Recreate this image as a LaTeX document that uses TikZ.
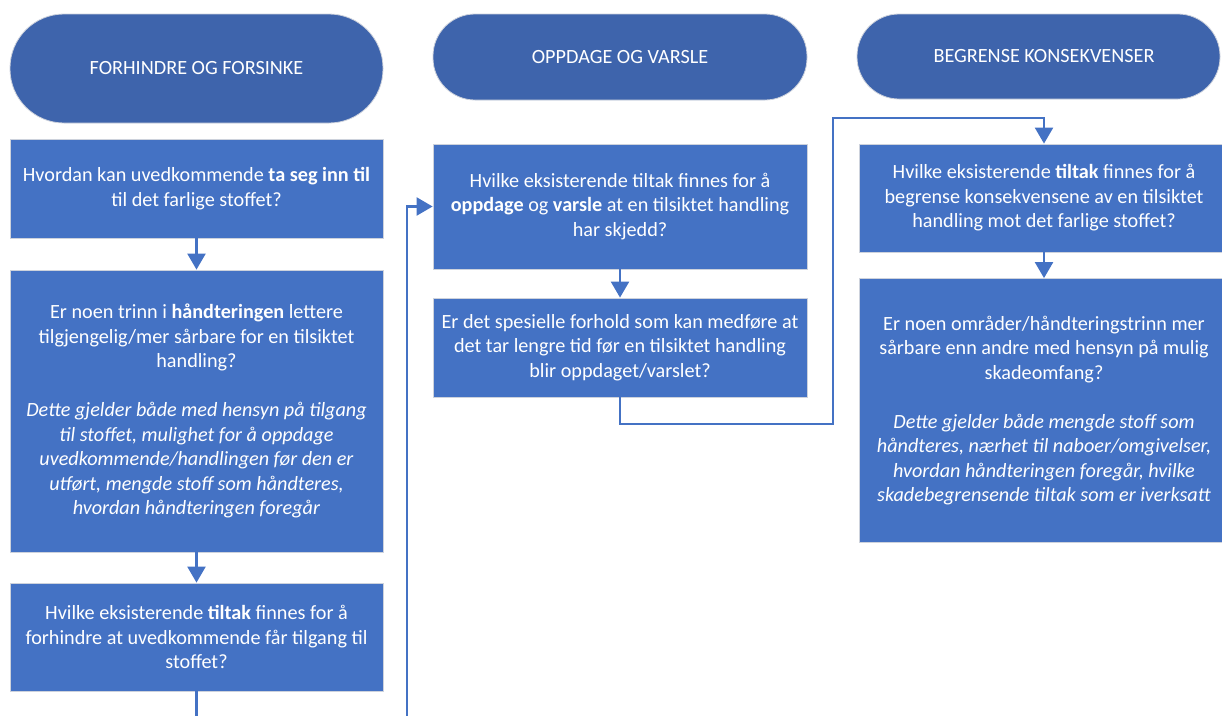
\documentclass[tikz,border=0pt]{standalone}
\usepackage{fontspec}
\setmainfont{Carlito}
\usetikzlibrary{arrows.meta}
\definecolor{termblue}{RGB}{62,100,172}
\definecolor{boxblue}{RGB}{68,114,196}
\definecolor{edgegray}{RGB}{205,210,220}
\tikzset{
  txt/.style={font={\fontsize{20.2}{24.5}\selectfont}, text=white, align=center, inner sep=0pt},
  term/.style={txt, fill=termblue, draw=edgegray, line width=0.8pt, rounded corners=42pt},
  qbox/.style={txt, fill=boxblue, draw=edgegray, line width=0.8pt},
  conn/.style={draw=boxblue, line width=2.3pt},
  arr/.style={conn, -{Triangle[length=16pt,width=18pt]}}
}
\begin{document}
\begin{tikzpicture}[x=1pt,y=-1pt]
\useasboundingbox (0,0) rectangle (1222,715);
\clip (0,0) rectangle (1222,715);
% headers
\node[term, minimum width=373pt, minimum height=109pt, rounded corners=54pt] (t1) at (196.5,68.5) {FORHINDRE OG FORSINKE};
\node[term, minimum width=374pt, minimum height=86pt] (t2) at (620,57) {OPPDAGE OG VARSLE};
\node[term, minimum width=363pt, minimum height=85pt] (t3) at (1038.5,56.5) {};
\node[txt] (t3l) at (1044,56.5) {BEGRENSE KONSEKVENSER};
% column A
\node[qbox, minimum width=373pt, minimum height=99pt] (a1) at (196.5,188.5)
  {Hvordan kan uvedkommende \textbf{ta seg inn til}\\til det farlige stoffet?};
\node[qbox, minimum width=373pt, minimum height=282pt] (a2) at (196.5,411)
  {Er noen trinn i \textbf{håndteringen} lettere\\tilgjengelig/mer sårbare for en tilsiktet\\handling?\\[24.5pt]
   \textit{Dette gjelder både med hensyn på tilgang}\\\textit{til stoffet, mulighet for å oppdage}\\\textit{uvedkommende/handlingen før den er}\\\textit{utført, mengde stoff som håndteres,}\\\textit{hvordan håndteringen foregår}};
\node[qbox, minimum width=373pt, minimum height=108pt] (a3) at (196.5,637)
  {Hvilke eksisterende \textbf{tiltak} finnes for å\\forhindre at uvedkommende får tilgang til\\stoffet?};
% column B
\node[qbox, minimum width=374pt, minimum height=125pt] (b1) at (620,206.5)
  {Hvilke eksisterende tiltak finnes for å\\\textbf{oppdage} og \textbf{varsle} at en tilsiktet handling\\har skjedd?};
\node[qbox, minimum width=374pt, minimum height=99pt] (b2) at (620,347.5)
  {Er det spesielle forhold som kan medføre at\\det tar lengre tid før en tilsiktet handling\\blir oppdaget/varslet?};
% column C
\node[qbox, minimum width=370pt, minimum height=108pt] (c1) at (1044,198)
  {Hvilke eksisterende \textbf{tiltak} finnes for å\\begrense konsekvensene av en tilsiktet\\handling mot det farlige stoffet?};
\node[qbox, minimum width=370pt, minimum height=264pt] (c2) at (1044,410.5)
  {Er noen områder/håndteringstrinn mer\\sårbare enn andre med hensyn på mulig\\skadeomfang?\\[24.5pt]
   \textit{Dette gjelder både mengde stoff som}\\\textit{håndteres, nærhet til naboer/omgivelser,}\\\textit{hvordan håndteringen foregår, hvilke}\\\textit{skadebegrensende tiltak som er iverksatt}};
% free ends
\coordinate (aout) at (196.5,716);
\coordinate (bin) at (407,716);
\coordinate (r1) at (833,424);
\coordinate (r2) at (833,118);
% connectors
\draw[arr] (a1.south) -- (a2.north);
\draw[arr] (a2.south) -- (a3.north);
\draw[conn] (a3.south) -- (aout);
\draw[arr] (bin) |- (b1.west);
\draw[arr] (b1.south) -- (b2.north);
\draw[arr] (b2.south) |- (r1) -- (r2) -| (c1.north);
\draw[arr] (c1.south) -- (c2.north);
\end{tikzpicture}
\end{document}
